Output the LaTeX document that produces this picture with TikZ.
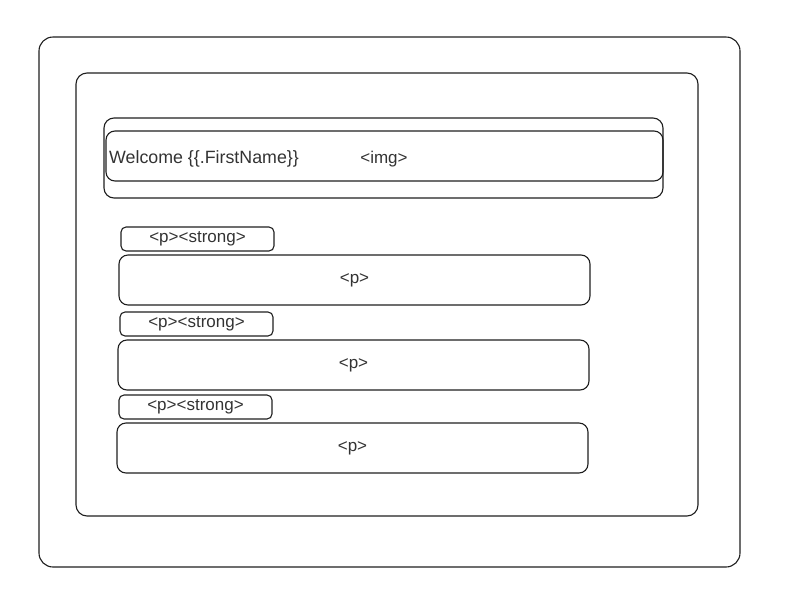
\documentclass[tikz,border=0pt]{standalone}
\usepackage{fontspec}
\setmainfont{Liberation Sans}
\definecolor{inkline}{HTML}{1E1E1E}
\definecolor{inktext}{HTML}{333333}
\tikzset{
    frame/.style={rectangle, draw=inkline, line width=1.1pt, inner sep=0pt},
    tag/.style={text=inktext, font=\fontsize{17}{20}\selectfont}
}
\begin{document}
\begin{tikzpicture}[x=1pt, y=-1pt]
    \useasboundingbox (0,0) rectangle (790,595);

    % Page frames
    \node[frame, rounded corners=14pt, minimum width=701pt, minimum height=530pt] (page) at (389.5,302) {};
    \node[frame, rounded corners=11pt, minimum width=622pt, minimum height=443pt] (body) at (387,294.5) {};

    % Header
    \node[frame, rounded corners=10pt, minimum width=559pt, minimum height=80pt] (header) at (383.5,158) {};
    \node[frame, rounded corners=9pt, minimum width=557pt, minimum height=50pt] (banner) at (384.5,156) {};
    \node[tag, inner sep=0pt] (imgtag) at (384,159) {<img>};
    \node[tag, font=\fontsize{17.8}{20}\selectfont, anchor=west, inner sep=0pt] (welcome) at (109,158.5) {Welcome \{\{.FirstName\}\}};

    % Paragraphs
    \node[frame, rounded corners=5pt, minimum width=153pt, minimum height=24pt, tag] (strong1) at (197.5,239) {<p><strong>};
    \node[frame, rounded corners=9pt, minimum width=471pt, minimum height=50pt, tag] (para1) at (354.5,280) {<p>};

    \node[frame, rounded corners=5pt, minimum width=153pt, minimum height=24pt, tag] (strong2) at (196.5,324) {<p><strong>};
    \node[frame, rounded corners=9pt, minimum width=471pt, minimum height=50pt, tag] (para2) at (353.5,365) {<p>};

    \node[frame, rounded corners=5pt, minimum width=153pt, minimum height=24pt, tag] (strong3) at (195.5,407) {<p><strong>};
    \node[frame, rounded corners=9pt, minimum width=471pt, minimum height=50pt, tag] (para3) at (352.5,448) {<p>};

\end{tikzpicture}
\end{document}
